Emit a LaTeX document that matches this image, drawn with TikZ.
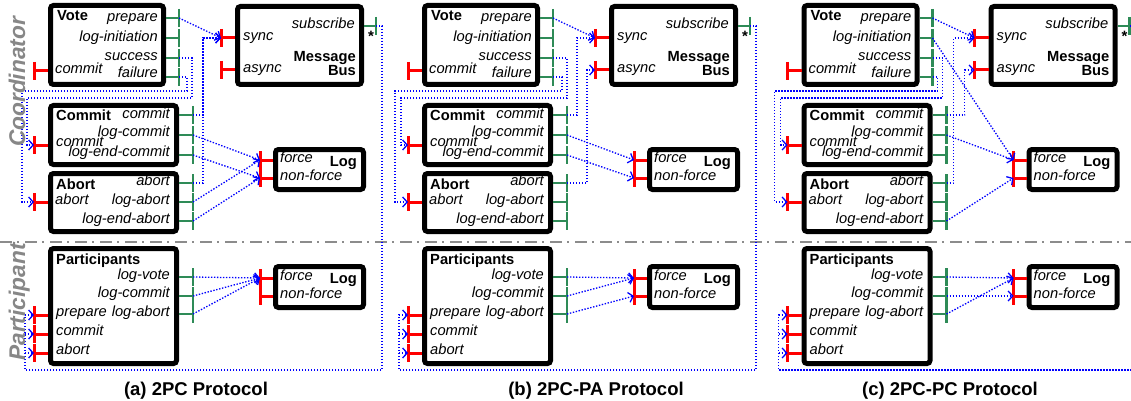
\documentclass[tikz,border=0pt]{standalone}
\usepackage{fontspec}
\setmainfont{Liberation Sans}
\usetikzlibrary{arrows.meta}
\definecolor{pgreen}{RGB}{46,139,87}
\definecolor{sepgray}{RGB}{140,140,140}
\definecolor{lblgray}{RGB}{135,135,135}
\tikzset{
 box/.style={draw=black, line width=5pt, rounded corners=3pt, fill=white, inner sep=0pt, outer sep=0pt},
 gport/.style={draw=pgreen, line width=2.3pt},
 rport/.style={draw=red, line width=3pt},
 lbl/.style={font=\fontsize{14.7}{17}\selectfont\itshape, inner sep=0pt},
 ttl/.style={font=\fontsize{14.7}{17}\selectfont\bfseries, inner sep=0pt},
 conn/.style={draw=blue, line width=1.3pt, dash pattern=on 1.4pt off 1.6pt},
 arr/.style={conn, -{Straight Barb[length=4.5pt,width=10pt,line width=1.3pt]}},
 sepline/.style={draw=sepgray, line width=1.5pt, dash pattern=on 12pt off 5pt on 2pt off 6pt},
 side/.style={font=\fontsize{22.7}{26}\selectfont\bfseries\itshape, text=lblgray, inner sep=0pt, rotate=90, anchor=base},
 capt/.style={font=\fontsize{18.5}{22}\selectfont\bfseries, inner sep=0pt, anchor=base},
 star/.style={font=\fontsize{15}{16}\selectfont\bfseries, inner sep=0pt},
}
% green output port: name, x start, x tick, y
\newcommand\gp[4]{%
 \draw[gport] (#2,#4) -- (#3,#4);
 \draw[gport] (#3,#4-9) -- (#3,#4+9);
 \coordinate (#1) at (#3,#4);}
% red input port: name, x tick, x end, y
\newcommand\rp[4]{%
 \draw[rport] (#2,#4) -- (#3,#4);
 \draw[rport] (#2,#4-9) -- (#2,#4+9);
 \coordinate (#1) at (#2,#4);}
\newcommand\drawpanel[1]{%
 \node[box, minimum width=113pt, minimum height=79pt] (#1-vote) at (107,45) {};
 \node[box, minimum width=124pt, minimum height=78pt] (#1-mb) at (299.5,45.5) {};
 \node[box, minimum width=126pt, minimum height=59pt] (#1-commit) at (113.5,135) {};
 \node[box, minimum width=126pt, minimum height=58pt] (#1-abort) at (113.5,202.5) {};
 \node[box, minimum width=88pt, minimum height=40pt] (#1-log) at (319.5,169.5) {};
 \node[box, minimum width=126pt, minimum height=115pt] (#1-part) at (113.5,306) {};
 \node[box, minimum width=88pt, minimum height=41pt] (#1-plog) at (319.5,287) {};
 % Vote texts
 \node[ttl, anchor=base west] (#1-tv) at (57,21) {Vote};
 \node[lbl, anchor=mid east] (#1-tv1) at (158,19) {prepare};
 \node[lbl, anchor=mid east] (#1-tv2) at (158,39) {log-initiation};
 \node[lbl, anchor=mid east] (#1-tv3) at (158,58) {success};
 \node[lbl, anchor=mid east] (#1-tv4) at (158,75) {failure};
 \node[lbl, anchor=mid west] (#1-tv5) at (55,71) {commit};
 % Message bus texts
 \node[lbl, anchor=mid west] (#1-tm1) at (243,38) {sync};
 \node[lbl, anchor=mid west] (#1-tm2) at (243,70) {async};
 \node[lbl, anchor=mid east] (#1-tm3) at (355,26) {subscribe};
 \node[ttl, anchor=base east] (#1-tm4) at (356,62) {Message};
 \node[ttl, anchor=base east] (#1-tm5) at (356,76) {Bus};
 \node[star] (#1-star) at (371,36) {*};
 % Commit texts
 \node[ttl, anchor=base west] (#1-tc) at (56,121) {Commit};
 \node[lbl, anchor=mid east] (#1-tc1) at (170,116) {commit};
 \node[lbl, anchor=mid east] (#1-tc2) at (170,134) {log-commit};
 \node[lbl, anchor=mid east] (#1-tc3) at (170,154) {log-end-commit};
 \node[lbl, anchor=mid west] (#1-tc4) at (56,144) {commit};
 % Abort texts
 \node[ttl, anchor=base west] (#1-ta) at (56,189) {Abort};
 \node[lbl, anchor=mid east] (#1-ta1) at (170,183) {abort};
 \node[lbl, anchor=mid east] (#1-ta2) at (170,202) {log-abort};
 \node[lbl, anchor=mid east] (#1-ta3) at (170,221) {log-end-abort};
 \node[lbl, anchor=mid west] (#1-ta4) at (55,202) {abort};
 % Log texts
 \node[lbl, anchor=mid west] (#1-tl1) at (280,160) {force};
 \node[lbl, anchor=mid west] (#1-tl2) at (280,178) {non-force};
 \node[ttl, anchor=base east] (#1-tl) at (357,166) {Log};
 % Participants texts
 \node[ttl, anchor=base west] (#1-tp) at (56,264) {Participants};
 \node[lbl, anchor=mid east] (#1-tp1) at (170,277) {log-vote};
 \node[lbl, anchor=mid east] (#1-tp2) at (170,295) {log-commit};
 \node[lbl, anchor=mid east] (#1-tp3) at (170,314) {log-abort};
 \node[lbl, anchor=mid west] (#1-tp4) at (56,314) {prepare};
 \node[lbl, anchor=mid west] (#1-tp5) at (56,333) {commit};
 \node[lbl, anchor=mid west] (#1-tp6) at (56,352) {abort};
 % Participant log texts
 \node[lbl, anchor=mid west] (#1-tq1) at (280,278) {force};
 \node[lbl, anchor=mid west] (#1-tq2) at (280,296) {non-force};
 \node[ttl, anchor=base east] (#1-tq) at (357,283) {Log};
 % ports
 \gp{#1-prep}{166}{179}{18}
 \gp{#1-linit}{166}{179}{38}
 \gp{#1-succ}{166}{179}{58}
 \gp{#1-fail}{166}{179}{77}
 \rp{#1-vin}{34}{48}{71}
 \rp{#1-sync}{221}{235}{38}
 \rp{#1-async}{221}{235}{70}
 \gp{#1-sub}{364}{376}{26}
 \gp{#1-ccom}{179}{193}{115}
 \gp{#1-lcom}{179}{193}{135}
 \gp{#1-lecom}{179}{193}{155}
 \rp{#1-cin}{34}{48}{145}
 \gp{#1-aab}{179}{193}{183}
 \gp{#1-lab}{179}{193}{202}
 \gp{#1-leab}{179}{193}{221}
 \rp{#1-ain}{34}{48}{202}
 \rp{#1-force}{260}{273}{160}
 \rp{#1-nforce}{260}{273}{178}
 \gp{#1-plv}{179}{193}{277}
 \gp{#1-plc}{179}{193}{296}
 \gp{#1-pla}{179}{193}{314}
 \rp{#1-pprep}{34}{48}{315}
 \rp{#1-pcom}{34}{48}{334}
 \rp{#1-pab}{34}{48}{353}
 \rp{#1-pforce}{260}{273}{278}
 \rp{#1-pnforce}{260}{273}{296}
 % common connectors
 \draw[arr] (#1-prep) -- (#1-sync);
 \draw[arr] (#1-sub) -- (382,26) -- (382,370) -- (25,370) |- (#1-pprep);
 \draw[arr] (25,334) -- (#1-pcom);
 \draw[arr] (25,353) -- (#1-pab);
}
\begin{document}
\begin{tikzpicture}[x=1pt,y=-1pt]
\useasboundingbox (0,0) rectangle (1131,401);
\fill[white] (0,0) rectangle (1131,401);
\clip (0,0) rectangle (1131,401);
\draw[sepline] (0,242) -- (1131,242);
% ---------- (a) 2PC ----------
\begin{scope}
\drawpanel{a}
\draw[arr] (a-succ) -- (192,58) -- (192,98) -- (27,98) |- (a-cin);
\draw[arr] (a-fail) -- (187,77) -- (187,91) -- (22,91) |- (a-ain);
\draw[arr] (a-ccom) -| (203,38) -- (a-sync);
\draw[arr] (a-aab) -| (203,38) -- (a-sync);
\draw[arr] (a-lcom) -- (a-force);
\draw[arr] (a-lecom) -- (a-nforce);
\draw[arr] (a-lab) -- (a-force);
\draw[arr] (a-leab) -- (a-nforce);
\draw[arr] (a-plv) -- (a-pforce);
\draw[arr] (a-plc) -- (a-pforce);
\draw[arr] (a-pla) -- (a-pforce);
\end{scope}
% ---------- (b) 2PC-PA ----------
\begin{scope}[xshift=374pt]
\drawpanel{b}
\draw[arr] (b-succ) -- (193,58) -- (193,98) -- (27,98) |- (b-cin);
\draw[arr] (b-fail) -- (188,77) -- (188,91) -- (21,91) |- (b-ain);
\draw[arr] (b-ccom) -| (203,38) -- (b-sync);
\draw[arr] (b-aab) -| (213,70) -- (b-async);
\draw[arr] (b-lcom) -- (b-force);
\draw[arr] (b-lecom) -- (b-nforce);
\draw[arr] (b-plv) -- (b-pforce);
\draw[arr] (b-plc) -- (b-pforce);
\draw[arr] (b-pla) -- (b-pnforce);
\end{scope}
% ---------- (c) 2PC-PC ----------
\begin{scope}[xshift=753.5pt]
\drawpanel{c}
\draw[arr] (c-linit) -- (c-force);
\draw[arr] (c-succ) -- (189,58) -- (189,98) -- (27,98) |- (c-cin);
\draw[arr] (c-fail) -- (184,77) -- (184,91) -- (21,91) |- (c-ain);
\draw[arr] (c-aab) -| (200,38) -- (c-sync);
\draw[arr] (c-ccom) -| (211,70) -- (c-async);
\draw[arr] (c-lcom) -- (c-force);
\draw[arr] (c-leab) -- (c-nforce);
\draw[arr] (c-plv) -- (c-pforce);
\draw[arr] (c-plc) -- (c-pnforce);
\draw[arr] (c-pla) -- (c-pforce);
\end{scope}
% side labels
\node[side] (coordlbl) at (25,82) {Coordinator};
\node[side] (partlbl) at (25,302) {Participant};
% captions
\node[capt] (capa) at (196,395) {(a) 2PC Protocol};
\node[capt] (capb) at (596,395) {(b) 2PC-PA Protocol};
\node[capt] (capc) at (950,395) {(c) 2PC-PC Protocol};
\end{tikzpicture}
\end{document}
